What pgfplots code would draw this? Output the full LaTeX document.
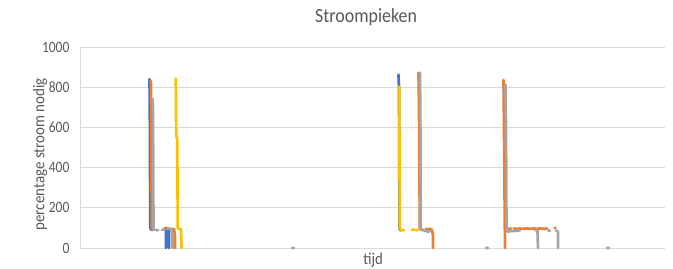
\documentclass[border=0pt]{standalone}
\usepackage{fontspec}
\setmainfont{Carlito}
\usepackage{graphicx}
\usepackage{pgfplots}
\pgfplotsset{compat=1.18}
\definecolor{xblue}{HTML}{4472C4}
\definecolor{xorange}{HTML}{ED7D31}
\definecolor{xgray}{HTML}{A5A5A5}
\definecolor{xyellow}{HTML}{FFC000}
\definecolor{gridgray}{HTML}{D9D9D9}
\definecolor{textgray}{HTML}{595959}
\newcommand{\tl}[1]{\scalebox{1}[1.16]{\fontsize{13.6}{15}\selectfont #1}}
\begin{document}
\begin{tikzpicture}
\useasboundingbox (-80bp,-21bp) rectangle (593bp,248bp);
\begin{axis}[
  scale only axis, width=585bp, height=201bp,
  xmin=80, xmax=665, ymin=0, ymax=1000,
  clip=false,
  ytick={0,200,400,600,800,1000}, xtick=\empty,
  yticklabels={\tl{0},\tl{200},\tl{400},\tl{600},\tl{800},\tl{1000}},
  ymajorgrids, grid style={draw=gridgray, line width=0.75bp},
  axis x line*=bottom, axis y line*=left,
  axis line style={draw=gridgray, line width=0.75bp, -},
  major tick length=0pt,
  yticklabel style={text=textgray, anchor=east, xshift=-7bp},
  unbounded coords=jump,
  every axis plot/.append style={line width=2.7bp, line join=round, line cap=round, mark=none},
]
% blue
\addplot[xblue] coordinates {
(149.5,840) (149.8,700) (150.3,100) (151,92) (153,90)
(154,nan)
(166,0) (166,95) (169,95) (169,0)
(170,nan)
(398.5,862) (399,800) (399.5,100) (400,90) (401,88)
};
% orange
\addplot[xorange] coordinates {
(150.5,832) (151,815) (151.8,100) (153,92) (154,90)
(155,nan)
(164.5,98) (166,100) (168,98)
(169,nan)
(172.5,95) (174,95) (175,60) (175,0)
(176,nan)
(418.5,872) (419,700) (419.8,100) (421,90) (423,92)
(424,nan)
(426,95) (428,92) (430,95) (432,90) (433,60) (433,0)
(434,nan)
(503.5,836) (504,600) (504.5,300) (505,0)
(506,nan)
(509,95) (511,97)
(512,nan)
(514,97) (517,95) (520,97) (523,95) (527,97) (530,95) (534,97) (537,95) (540,97) (544,95) (547,97)
(548,nan)
(554.5,100) (555.5,100)
};
% gray
\addplot[xgray] coordinates {
(152.5,742) (153,700) (153.5,95) (154.5,90)
(155,nan)
(156,88) (158,90)
(159,nan)
(162,90) (164,92)
(165,nan)
(167,95) (170,96) (171.5,94) (172.5,60) (172.5,0)
(173,nan)
(292,0) (294,0)
(295,nan)
(420,872) (420.4,600) (420.8,95) (422,88)
(423,nan)
(424,85) (426,88) (428,80) (430,86)
(431,nan)
(486,0) (488,0)
(489,nan)
(505.5,812) (506,600) (506.5,85) (508,82) (512,85) (516,85) (520,88)
(521,nan)
(535,90) (537.5,90) (538,0)
(539,nan)
(548,88) (550,85)
(551,nan)
(556,88) (558,80) (558,0)
(559,nan)
(607,0) (609,0)
};
% yellow
\addplot[xyellow] coordinates {
(175.8,842) (176.2,560) (177.2,540) (177.8,100) (179,95) (181,95) (181.5,0)
(182,nan)
(399.2,802) (399.8,100) (401,90) (404,88)
(405,nan)
(412,90) (414,92)
(415,nan)
(416,90) (418,90)
};
\node[text=textgray] at (axis description cs:0.489,1.149) {\scalebox{1}[1.12]{\fontsize{18}{21}\selectfont Stroompieken}};
\node[text=textgray, rotate=90] at (axis description cs:-0.0684,0.466) {\scalebox{1}[1.1]{\fontsize{15}{18}\selectfont percentage stroom nodig}};
\node[text=textgray] at (axis description cs:0.501,-0.060) {\scalebox{1}[1.12]{\fontsize{14.9}{18}\selectfont tijd}};
\end{axis}
\end{tikzpicture}
\end{document}
